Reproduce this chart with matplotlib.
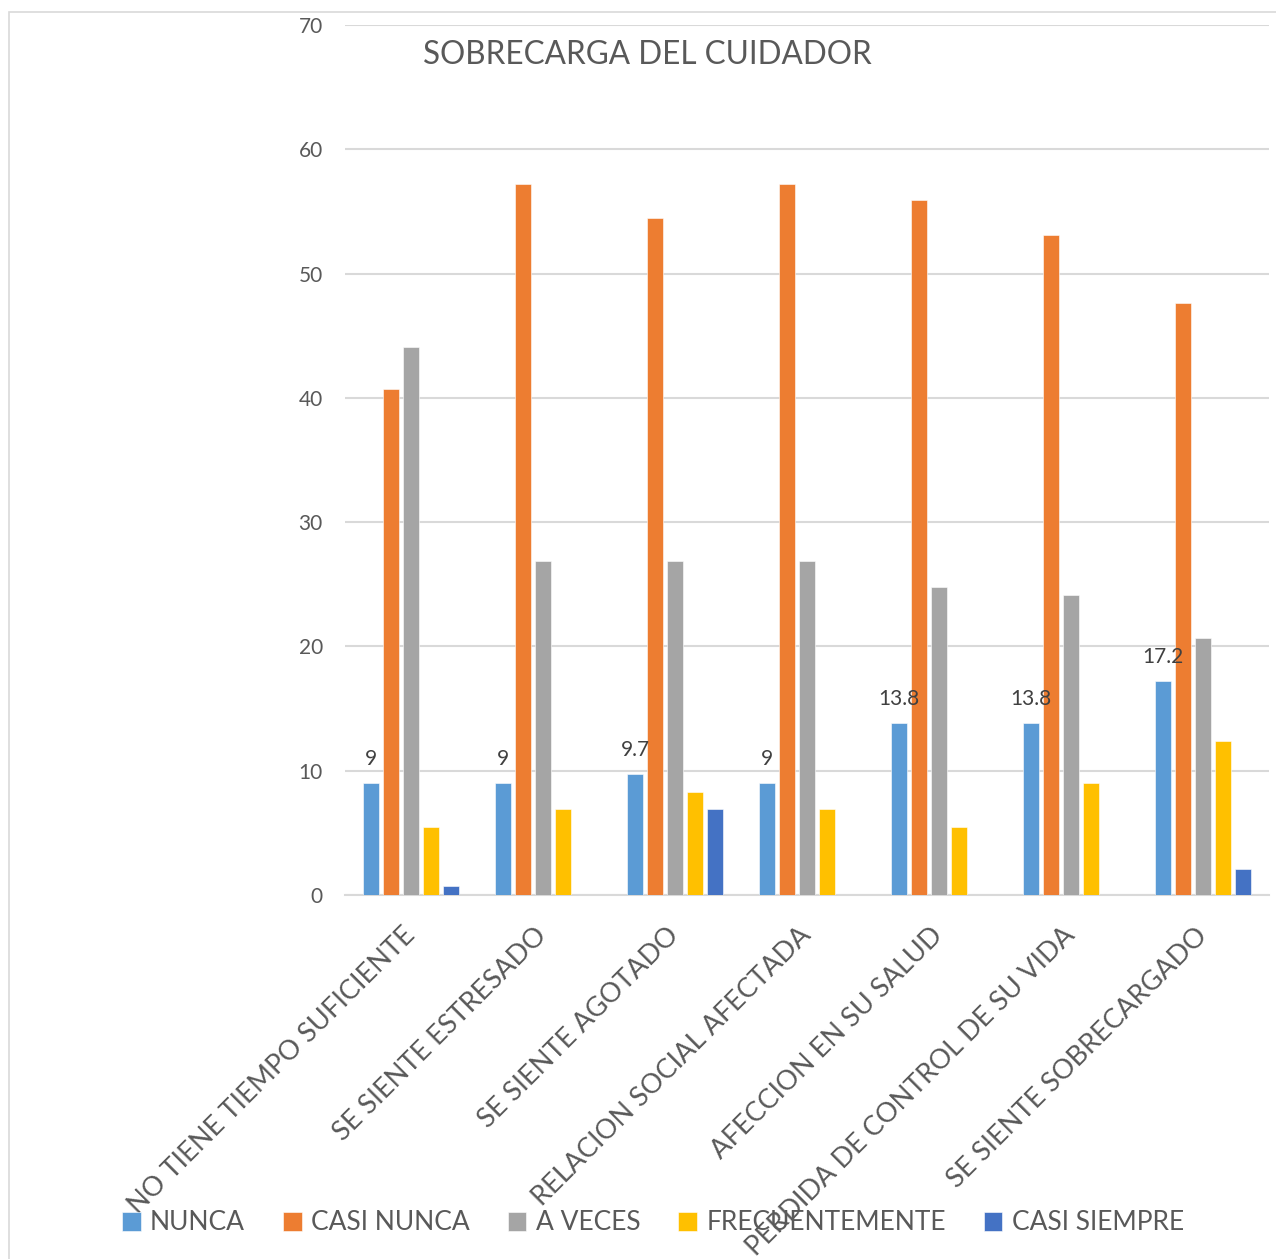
import matplotlib
matplotlib.use("Agg")
import matplotlib.pyplot as plt
import matplotlib.transforms as mtransforms
import numpy as np
from matplotlib.patches import Rectangle

plt.rcParams['font.family'] = ['Lato', 'DejaVu Sans']

categories = ["NO TIENE TIEMPO SUFICIENTE", "SE SIENTE ESTRESADO", "SE SIENTE AGOTADO",
              "RELACION SOCIAL AFECTADA", "AFECCION EN SU SALUD",
              "PERDIDA DE CONTROL DE SU VIDA", "SE SIENTE SOBRECARGADO"]
series_names = ["NUNCA", "CASI NUNCA", "A VECES", "FRECUENTEMENTE", "CASI SIEMPRE"]
nunca = [9, 9, 9.7, 9, 13.8, 13.8, 17.2]
casi_nunca = [40.7, 57.2, 54.5, 57.2, 55.9, 53.1, 47.6]
a_veces = [44.1, 26.9, 26.9, 26.9, 24.8, 24.1, 20.7]
frecuentemente = [5.5, 6.9, 8.3, 6.9, 5.5, 9.0, 12.4]
casi_siempre = [0.7, 0, 6.9, 0, 0, 0, 2.1]
colors = ["#5B9BD5", "#ED7D31", "#A5A5A5", "#FFC000", "#4472C4"]
title = "SOBRECARGA DEL CUIDADOR"

W, H = 1276, 1259
fig = plt.figure(figsize=(W / 100, H / 100), dpi=100)
ax = fig.add_axes([345 / W, 1 - 895 / H, (1269 - 345) / W, (895 - 25) / H])

# outer chart border
fig.patches.append(Rectangle((9 / W, -0.1), 1.2, 1.1 - 12 / H, transform=fig.transFigure,
                             fill=False, edgecolor="#D9D9D9", linewidth=1.2, zorder=0))

x = np.arange(len(categories))
step = 20 / 132
bw = 16 / 132
all_series = [nunca, casi_nunca, a_veces, frecuentemente, casi_siempre]
for i, (vals, name, c) in enumerate(zip(all_series, series_names, colors)):
    ax.bar(x + (i - 2) * step, vals, width=bw, color=c, label=name, zorder=3,
           edgecolor="white", linewidth=0.4)

for xi, v in zip(x, nunca):
    ax.annotate(f"{v:g}", (xi - 2 * step, v), xytext=(0, 13), textcoords="offset points",
                ha="center", va="baseline", fontsize=15, color="#404040", zorder=4)

ax.set_xlim(-0.5, len(categories) - 0.5)
ax.set_ylim(0, 70)
ax.set_yticks(range(0, 71, 10))
ax.yaxis.grid(True, color="#D9D9D9", linewidth=1.5, zorder=0)
ax.set_axisbelow(True)
for s in ["top", "right", "left"]:
    ax.spines[s].set_visible(False)
ax.spines["bottom"].set_color("#D9D9D9")
ax.spines["bottom"].set_linewidth(1.5)
ax.tick_params(axis="y", length=0, pad=16, labelsize=15, labelcolor="#595959")
ax.tick_params(axis="x", length=0, pad=20, labelsize=19.5, labelcolor="#595959")
ax.set_xticks(x)
ax.set_xticklabels(categories, rotation=45, ha="right", va="top", rotation_mode="anchor")
shift = mtransforms.ScaledTranslation(-9 / 100, 0, fig.dpi_scale_trans)
for lbl in ax.get_xticklabels():
    lbl.set_transform(lbl.get_transform() + shift)

fig.text(647 / W, 1 - 55 / H, title, ha="center", va="center", fontsize=22.7, color="#595959")

fig.legend(loc="center", bbox_to_anchor=(653 / W, 1 - 1223 / H), ncol=5, frameon=False,
           fontsize=19, handlelength=0.7, handleheight=0.7, handletextpad=0.35,
           columnspacing=1.45, labelcolor="#595959")

fig.savefig("out.png", dpi=100, facecolor="white")
